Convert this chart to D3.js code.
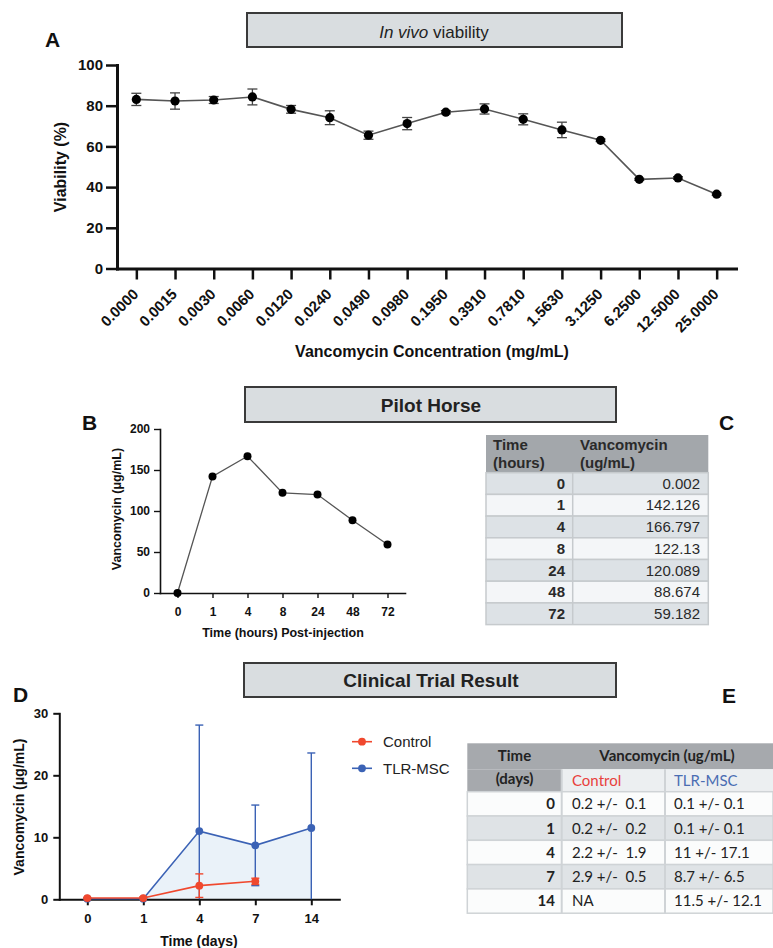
<!DOCTYPE html>
<html><head><meta charset="utf-8">
<script src="https://cdn.jsdelivr.net/npm/d3@7"></script>
<style>
body{margin:0;background:#fff;}
svg{display:block;}
text{font-family:"Liberation Sans",Arial,Helvetica,sans-serif;}
.lato{font-family:Lato,"Open Sans",sans-serif;}
</style></head><body>
<svg id="c" width="773" height="948"></svg>
<script>
// ---------- DATA ----------
// Panel A
const concLabels = ["0.0000","0.0015","0.0030","0.0060","0.0120","0.0240","0.0490","0.0980","0.1950","0.3910","0.7810","1.5630","3.1250","6.2500","12.5000","25.0000"];
const viability = [83.1,82.3,82.8,84.3,78.2,74.1,65.5,71.2,76.8,78.4,73.3,68.1,63.0,43.8,44.5,36.5];
const viabilityErr = [3.0,4.0,1.7,3.9,1.9,3.4,2.0,3.0,0.8,2.5,2.7,3.8,0.6,0.5,0.6,0.5];
const viabTicks = [0,20,40,60,80,100];
// Panel B / C
const hours = ["0","1","4","8","24","48","72"];
const vanco = [0.002,142.126,166.797,122.13,120.089,88.674,59.182];
const vancoTicks = [0,50,100,150,200];
// Panel D / E
const days = ["0","1","4","7","14"];
const controlMean = [0.2,0.2,2.2,2.9,null];
const controlSD = [0.1,0.2,1.9,0.5,null];
const tlrMean = [0.1,0.1,11,8.7,11.5];
const tlrSD = [0.1,0.1,17.1,6.5,12.1];
const clinTicks = [0,10,20,30];

// ---------- DRAW ----------
const svg = d3.select("#c");

function titleBox(x0,x1,y0,y1){
  svg.append("rect").attr("x",x0).attr("y",y0).attr("width",x1-x0).attr("height",y1-y0)
    .attr("fill","#d9dde0").attr("stroke","#3a3a3a").attr("stroke-width",2);
}
function panelLabel(t,x,y){
  svg.append("text").attr("x",x).attr("y",y).attr("font-size",21).attr("font-weight","bold").attr("fill","#111").text(t);
}
function styleAxis(g,w,tw,fs){
  g.select(".domain").attr("stroke","#111").attr("stroke-width",w).attr("stroke-linecap","square");
  g.selectAll(".tick line").attr("stroke","#111").attr("stroke-width",tw);
  g.selectAll(".tick text").attr("fill","#111").attr("font-size",fs).attr("font-weight","bold");
}

// ===== Panel A =====
titleBox(247,622,13,47);
const tA = svg.append("text").attr("x",434).attr("y",38).attr("text-anchor","middle").attr("font-size",17).attr("fill","#222");
tA.append("tspan").attr("font-style","italic").text("In vivo");
tA.append("tspan").text(" viability");
panelLabel("A",45,47);

const xA = d3.scalePoint().domain(concLabels).range([117,736]).padding(0.5);
const yA = d3.scaleLinear().domain([0,100]).range([268.5,65]);
const gA = svg.append("g");
gA.append("g").attr("transform","translate(0,268.5)")
  .call(d3.axisBottom(xA).tickSize(11).tickSizeOuter(0).tickFormat(""))
  .call(g=>styleAxis(g,3,2.5,15));
gA.append("g").attr("transform","translate(117,0)")
  .call(d3.axisLeft(yA).tickValues(viabTicks).tickSize(11).tickPadding(3).tickSizeOuter(0))
  .call(g=>styleAxis(g,3,2.5,15));
gA.append("g").selectAll("text").data(concLabels).join("text")
  .attr("transform",d=>`translate(${xA(d)+3},295) rotate(-45)`)
  .attr("text-anchor","end").attr("font-size",15).attr("font-weight","bold").attr("fill","#111").text(d=>d);
gA.append("text").attr("x",432).attr("y",357).attr("text-anchor","middle")
  .attr("font-size",16).attr("font-weight","bold").attr("fill","#111").text("Vancomycin Concentration (mg/mL)");
gA.append("text").attr("transform","translate(66,167) rotate(-90)").attr("text-anchor","middle")
  .attr("font-size",16).attr("font-weight","bold").attr("fill","#111").text("Viability (%)");
const lineA = d3.line().x((d,i)=>xA(concLabels[i])).y(d=>yA(d));
gA.append("path").datum(viability).attr("d",lineA).attr("fill","none").attr("stroke","#555").attr("stroke-width",1.6);
const ebA = gA.append("g").attr("stroke","#444").attr("stroke-width",1.3);
viability.forEach((v,i)=>{
  const x = xA(concLabels[i]), e = viabilityErr[i];
  ebA.append("line").attr("x1",x).attr("x2",x).attr("y1",yA(v-e)).attr("y2",yA(v+e));
  ebA.append("line").attr("x1",x-5).attr("x2",x+5).attr("y1",yA(v+e)).attr("y2",yA(v+e));
  ebA.append("line").attr("x1",x-5).attr("x2",x+5).attr("y1",yA(v-e)).attr("y2",yA(v-e));
});
gA.append("g").selectAll("circle").data(viability).join("circle")
  .attr("cx",(d,i)=>xA(concLabels[i])).attr("cy",d=>yA(d)).attr("r",4.6).attr("fill","#000");

// ===== Panel B =====
titleBox(245,616,387,422);
svg.append("text").attr("x",431).attr("y",412).attr("text-anchor","middle").attr("font-size",19).attr("font-weight","bold").attr("fill","#222").text("Pilot Horse");
panelLabel("B",82,430);
const xB = d3.scalePoint().domain(hours).range([160,405]).padding(0.5);
const yB = d3.scaleLinear().domain([0,200]).range([593,429]);
const gB = svg.append("g");
gB.append("g").attr("transform","translate(0,593)")
  .call(d3.axisBottom(xB).tickSize(5).tickPadding(9).tickSizeOuter(0))
  .call(g=>styleAxis(g,1.6,1.4,12));
gB.append("g").attr("transform","translate(160,0)")
  .call(d3.axisLeft(yB).tickValues(vancoTicks).tickSize(6).tickPadding(4).tickSizeOuter(0))
  .call(g=>styleAxis(g,1.6,1.4,12));
gB.append("text").attr("x",283).attr("y",637).attr("text-anchor","middle").attr("font-size",12.5).attr("font-weight","bold").attr("fill","#111").text("Time (hours) Post-injection");
gB.append("text").attr("transform","translate(121,509) rotate(-90)").attr("text-anchor","middle").attr("font-size",12.5).attr("font-weight","bold").attr("fill","#111").text("Vancomycin (\u03BCg/mL)");
gB.append("path").datum(vanco).attr("d",d3.line().x((d,i)=>xB(hours[i])).y(d=>yB(d)))
  .attr("fill","none").attr("stroke","#555").attr("stroke-width",1.3);
gB.append("g").selectAll("circle").data(vanco).join("circle")
  .attr("cx",(d,i)=>xB(hours[i])).attr("cy",d=>yB(d)).attr("r",4).attr("fill","#000");

// ===== Panel C (table) =====
panelLabel("C",719,430);
const gC = svg.append("g");
const cX0=486,cX1=572.7,cX2=708.3,cHT=435,cHB=472.7,cRH=21.7;
gC.append("rect").attr("x",cX0).attr("y",cHT).attr("width",cX2-cX0).attr("height",cHB-cHT).attr("fill","#a3a7ab");
const tC = (x,y,t,bold,anchor)=>gC.append("text").attr("x",x).attr("y",y).attr("font-size",15)
  .attr("font-weight",bold?"bold":"normal").attr("text-anchor",anchor||"start").attr("fill","#2a2a2a").text(t);
tC(493,450,"Time",true); tC(493,468,"(hours)",true);
tC(580,450,"Vancomycin",true); tC(580,468,"(ug/mL)",true);
hours.forEach((h,i)=>{
  const y = cHB + i*cRH;
  gC.append("rect").attr("x",cX0).attr("y",y).attr("width",cX2-cX0).attr("height",cRH)
    .attr("fill", i%2===0 ? "#dde2e6" : "#f4f6f8").attr("stroke","#c6cacd").attr("stroke-width",1.5);
  tC(565,y+16,h,true,"end");
  tC(700,y+16,String(vanco[i]),false,"end");
});
gC.append("line").attr("x1",cX1).attr("x2",cX1).attr("y1",cHB).attr("y2",cHB+hours.length*cRH).attr("stroke","#c6cacd").attr("stroke-width",1.5);

// ===== Panel D =====
titleBox(244,616,663,697);
svg.append("text").attr("x",431).attr("y",687).attr("text-anchor","middle").attr("font-size",19).attr("font-weight","bold").attr("fill","#222").text("Clinical Trial Result");
panelLabel("D",13,702);
const xD = d3.scalePoint().domain(days).range([59.3,339.3]).padding(0.5);
const yD = d3.scaleLinear().domain([0,30]).range([899.3,713.3]);
const gD = svg.append("g");
const red="#f0482e", blue="#3b62b5";
// light fill under TLR-MSC
gD.append("path").datum(tlrMean)
  .attr("d",d3.area().x((d,i)=>xD(days[i])).y0(yD(0)).y1(d=>yD(d)))
  .attr("fill","#eaf2f9");
gD.append("g").attr("transform","translate(0,899.3)")
  .call(d3.axisBottom(xD).tickSize(6).tickPadding(8).tickSizeOuter(0))
  .call(g=>styleAxis(g,2,2,13));
gD.append("g").attr("transform","translate(59.3,0)")
  .call(d3.axisLeft(yD).tickValues(clinTicks).tickSize(6).tickPadding(5).tickSizeOuter(0))
  .call(g=>styleAxis(g,2,2,13));
gD.append("text").attr("x",199).attr("y",946).attr("text-anchor","middle").attr("font-size",14).attr("font-weight","bold").attr("fill","#111").text("Time (days)");
gD.append("text").attr("transform","translate(24,807) rotate(-90)").attr("text-anchor","middle").attr("font-size",14).attr("font-weight","bold").attr("fill","#111").text("Vancomycin (\u03BCg/mL)");
function series(mean,sd,color){
  const g = gD.append("g");
  const idx = mean.map((m,i)=>i).filter(i=>mean[i]!==null);
  idx.forEach(i=>{
    const x=xD(days[i]), hi=mean[i]+sd[i], lo=Math.max(0,mean[i]-sd[i]);
    g.append("line").attr("x1",x).attr("x2",x).attr("y1",yD(lo)).attr("y2",yD(hi)).attr("stroke",color).attr("stroke-width",1.4);
    g.append("line").attr("x1",x-4).attr("x2",x+4).attr("y1",yD(hi)).attr("y2",yD(hi)).attr("stroke",color).attr("stroke-width",1.4);
    if(lo>0) g.append("line").attr("x1",x-4).attr("x2",x+4).attr("y1",yD(lo)).attr("y2",yD(lo)).attr("stroke",color).attr("stroke-width",1.4);
  });
  g.append("path").datum(idx).attr("d",d3.line().x(i=>xD(days[i])).y(i=>yD(mean[i])))
    .attr("fill","none").attr("stroke",color).attr("stroke-width",1.6);
  g.selectAll("circle").data(idx).join("circle").attr("cx",i=>xD(days[i])).attr("cy",i=>yD(mean[i])).attr("r",3.9).attr("fill",color);
}
series(tlrMean,tlrSD,blue);
series(controlMean,controlSD,red);
// legend
[["Control",red,741.7],["TLR-MSC",blue,768.3]].forEach(([t,c,y])=>{
  gD.append("line").attr("x1",352).attr("x2",372).attr("y1",y).attr("y2",y).attr("stroke",c).attr("stroke-width",1.6);
  gD.append("circle").attr("cx",362).attr("cy",y).attr("r",3.9).attr("fill",c);
  gD.append("text").attr("x",383).attr("y",y+5.5).attr("font-size",15).attr("fill","#222").text(t);
});

// ===== Panel E (table) =====
panelLabel("E",722,703);
const gE = svg.append("g");
const eX0=467.3,eX1=561.7,eX2=665,eX3=773,eHT=743.3,eH1=769.3,eHB=791.7,eRH=24.3;
gE.append("rect").attr("x",eX0).attr("y",eHT).attr("width",eX3-eX0).attr("height",eH1-eHT).attr("fill","#a6a9ad");
gE.append("rect").attr("x",eX0).attr("y",eH1).attr("width",eX1-eX0).attr("height",eHB-eH1).attr("fill","#a6a9ad");
gE.append("rect").attr("x",eX1).attr("y",eH1).attr("width",eX3-eX1).attr("height",eHB-eH1).attr("fill","#eceff1");
const tE = (x,y,t,opts={})=>gE.append("text").attr("class","lato").attr("x",x).attr("y",y).attr("font-size",15)
  .attr("font-weight",opts.bold?"bold":"normal").attr("text-anchor",opts.anchor||"start")
  .attr("fill",opts.fill||"#222").style("white-space","pre").text(t);
tE(514.5,761,"Time",{bold:true,anchor:"middle"});
tE(514.5,784,"(days)",{bold:true,anchor:"middle"});
tE(667,761,"Vancomycin (ug/mL)",{bold:true,anchor:"middle"});
tE(572,786,"Control",{fill:"#e8413c"});
tE(674,786,"TLR-MSC",{fill:"#4a6db3"});
days.forEach((d,i)=>{
  const y = eHB + i*eRH;
  gE.append("rect").attr("x",eX0).attr("y",y).attr("width",eX3-eX0).attr("height",eRH)
    .attr("fill", i%2===0 ? "#fbfcfc" : "#dfe3e6").attr("stroke","#cfd3d6").attr("stroke-width",1.5);
  tE(555,y+17.5,d,{bold:true,anchor:"end"});
  tE(572,y+17.5, controlMean[i]===null ? "NA" : `${controlMean[i]} +/-  ${controlSD[i]}`);
  tE(674,y+17.5, `${tlrMean[i]} +/- ${tlrSD[i]}`);
});
[eX1,eX2].forEach(x=>gE.append("line").attr("x1",x).attr("x2",x).attr("y1",eH1).attr("y2",eHB+days.length*eRH).attr("stroke","#cfd3d6").attr("stroke-width",2));
</script>
</body></html>
